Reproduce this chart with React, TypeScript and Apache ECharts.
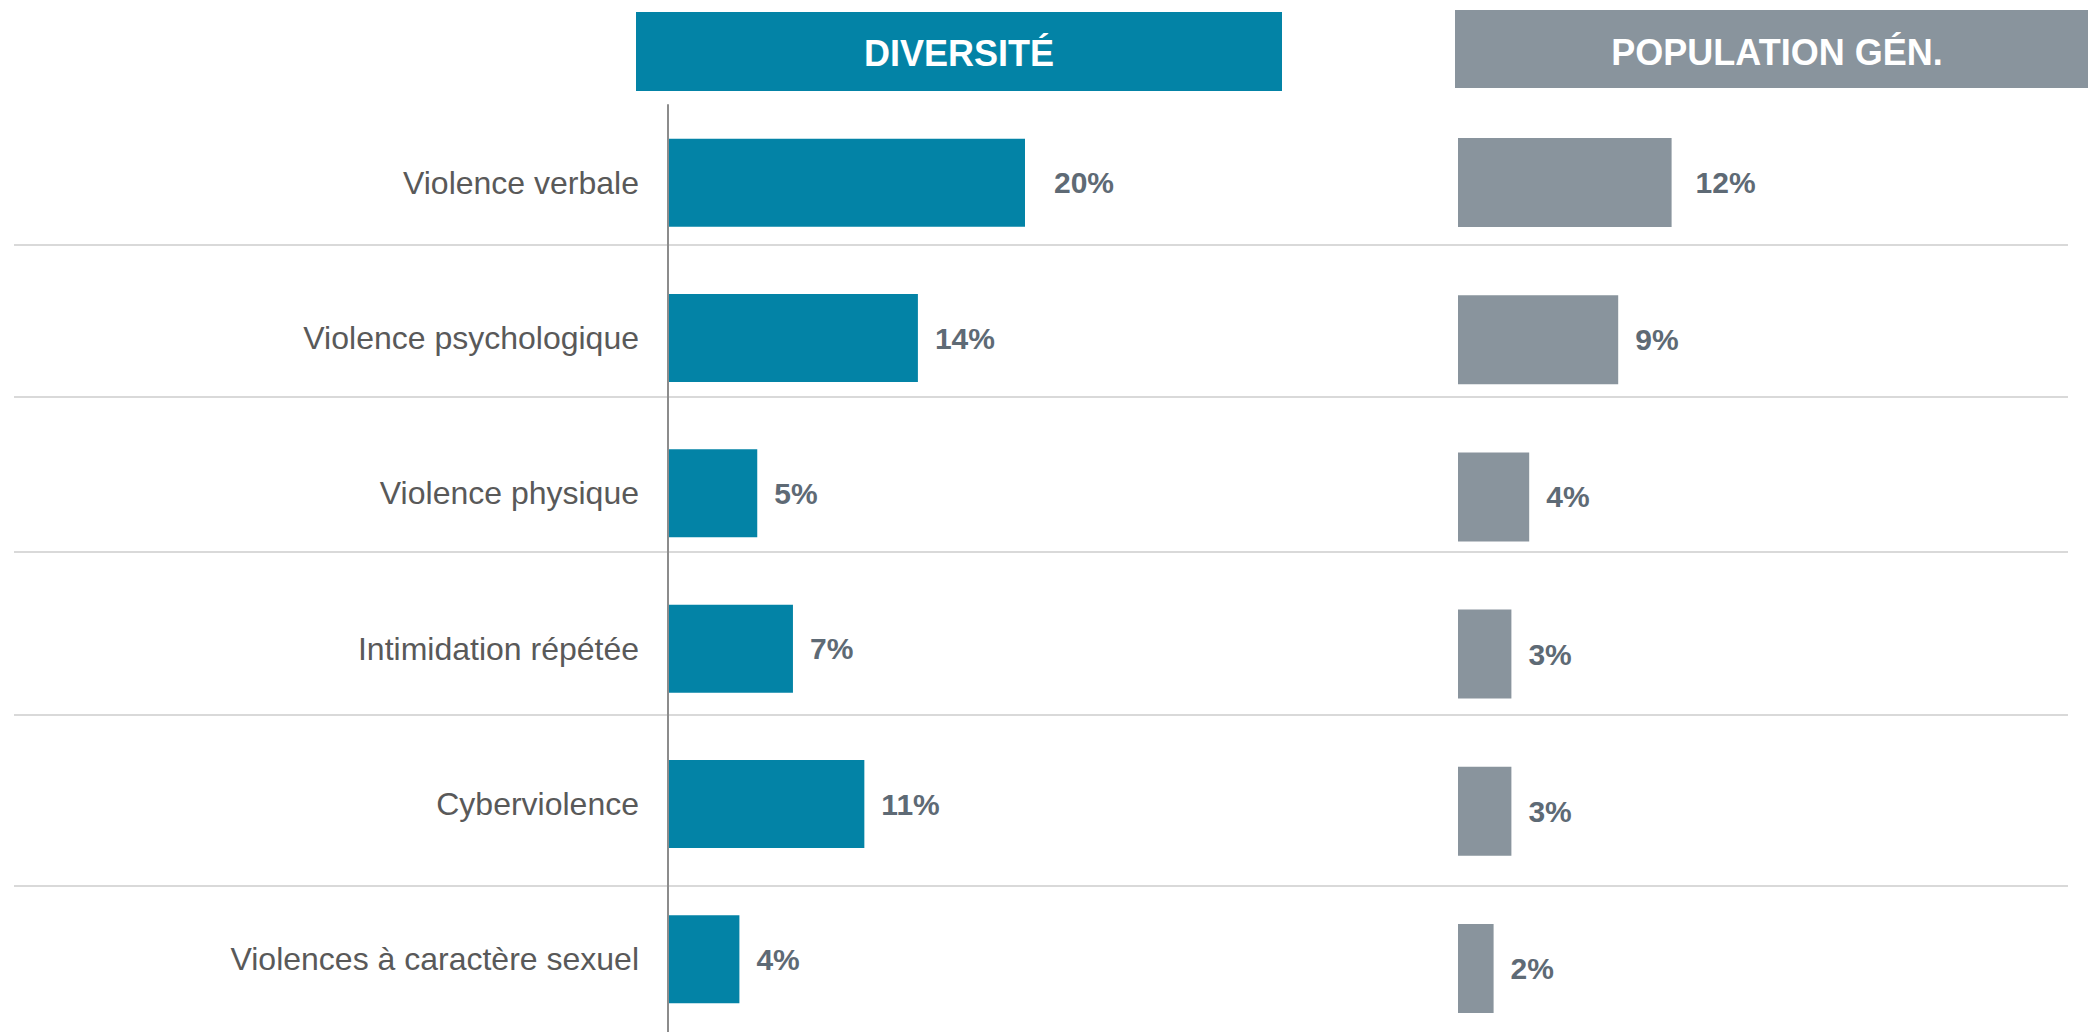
import React, { useEffect, useRef } from "react";
import * as echarts from "echarts";

const categories = [
  "Violence verbale",
  "Violence psychologique",
  "Violence physique",
  "Intimidation répétée",
  "Cyberviolence",
  "Violences à caractère sexuel",
];
const diversiteValues = [20, 14, 5, 7, 11, 4];
const populationValues = [12, 9, 4, 3, 3, 2];
const headerDiversite = "DIVERSITÉ";
const headerPopulation = "POPULATION GÉN.";

const FONT = "'Liberation Sans', Arial, Helvetica, sans-serif";
const TEAL = "#0383A6";
const GREY = "#89949D";
const LABEL_DARK = "#5E6A75";
const SEPARATOR_YS = [245, 397, 552, 715, 886];

export default function App() {
  const ref = useRef<HTMLDivElement>(null);

  useEffect(() => {
    document.body.style.margin = "0";
    if (!ref.current) return;
    const chart = echarts.init(ref.current, null, { renderer: "svg" });

    const valueLabel = (dist: number) => ({
      show: true,
      position: "right",
      distance: dist,
      formatter: "{c}%",
      fontFamily: FONT,
      fontSize: 30,
      fontWeight: "bold",
      color: LABEL_DARK,
    });

    const mk = (vals: number[], firstDist: number) =>
      vals.map((v, i) => (i === 0 ? { value: v, label: { distance: firstDist } } : { value: v }));

    const option: any = {
      animation: false,
      backgroundColor: "#ffffff",
      grid: [
        { left: 668, top: 105, width: 357, height: 932, containLabel: false, outerBoundsMode: "none" },
        { left: 1458, top: 104, width: 356, height: 943, containLabel: false, outerBoundsMode: "none" },
      ],
      xAxis: [
        { type: "value", gridIndex: 0, min: 0, max: 20, show: false },
        { type: "value", gridIndex: 1, min: 0, max: 20, show: false },
      ],
      yAxis: [
        {
          type: "category",
          gridIndex: 0,
          data: categories,
          inverse: true,
          axisLine: { show: true, lineStyle: { color: "#8C8C8C", width: 2 } },
          axisTick: { show: false },
          splitLine: { show: false },
          axisLabel: {
            margin: 29,
            fontFamily: FONT,
            fontSize: 32,
            color: "#595959",
          },
          z: 5,
        },
        {
          type: "category",
          gridIndex: 1,
          data: categories,
          inverse: true,
          show: false,
        },
      ],
      series: [
        {
          type: "bar",
          xAxisIndex: 0,
          yAxisIndex: 0,
          data: mk(diversiteValues, 29),
          barWidth: 88,
          itemStyle: { color: TEAL },
          label: valueLabel(17),
        },
        {
          type: "bar",
          xAxisIndex: 1,
          yAxisIndex: 1,
          data: mk(populationValues, 24),
          barWidth: 89,
          itemStyle: { color: GREY },
          label: valueLabel(17),
        },
      ],
      graphic: [
        ...SEPARATOR_YS.map((y) => ({
          type: "line",
          z: -1,
          shape: { x1: 14, y1: y, x2: 2068, y2: y },
          style: { stroke: "#D9D9D9", lineWidth: 2 },
        })),
        {
          type: "rect",
          shape: { x: 636, y: 12, width: 646, height: 79 },
          style: { fill: TEAL },
        },
        {
          type: "rect",
          shape: { x: 1455, y: 10, width: 640, height: 78 },
          style: { fill: GREY },
        },
        {
          type: "text",
          x: 959,
          y: 53,
          style: {
            text: headerDiversite,
            fill: "#ffffff",
            font: `bold 36px ${FONT}`,
            align: "center",
            verticalAlign: "middle",
          },
        },
        {
          type: "text",
          x: 1777,
          y: 52,
          style: {
            text: headerPopulation,
            fill: "#ffffff",
            font: `bold 36px ${FONT}`,
            align: "center",
            verticalAlign: "middle",
          },
        },
      ],
    };

    chart.setOption(option);
    return () => chart.dispose();
  }, []);

  return <div ref={ref} style={{ width: 2088, height: 1032 }} />;
}
